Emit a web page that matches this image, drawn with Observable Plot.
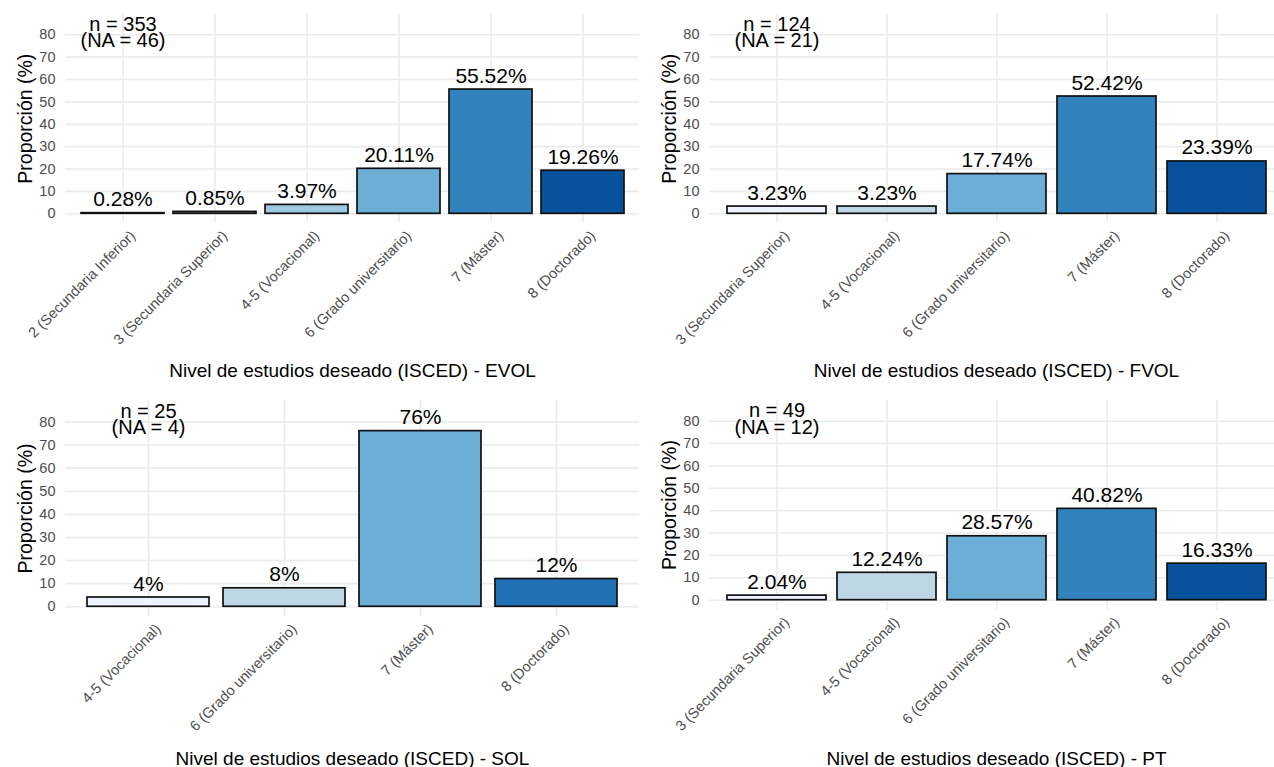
<!DOCTYPE html>
<html><head><meta charset="utf-8">
<script src="https://cdn.jsdelivr.net/npm/d3@7"></script>
<script src="https://cdn.jsdelivr.net/npm/@observablehq/plot@0.6"></script>
<style>
html,body{margin:0;padding:0;background:#fff}
body{width:1274px;height:767px;overflow:hidden;position:relative;font-family:"Liberation Sans",Arial,sans-serif}
.panel{position:absolute;width:645px}
.panel svg{overflow:visible;max-width:none !important}
</style></head><body>
<div id="p1" class="panel" style="left:0px;top:0px"></div>
<div id="p2" class="panel" style="left:643.5px;top:0px"></div>
<div id="p3" class="panel" style="left:0px;top:383px"></div>
<div id="p4" class="panel" style="left:643.5px;top:383px"></div>
<script>
// ---- data ----
const yTicks = [0, 10, 20, 30, 40, 50, 60, 70, 80];
const yTitle = "Proporción (%)";

const catsEVOL = ["2 (Secundaria Inferior)", "3 (Secundaria Superior)", "4-5 (Vocacional)", "6 (Grado universitario)", "7 (Máster)", "8 (Doctorado)"];
const valsEVOL = [0.28, 0.85, 3.97, 20.11, 55.52, 19.26];
const labsEVOL = ["0.28%", "0.85%", "3.97%", "20.11%", "55.52%", "19.26%"];
const noteEVOL = "n = 353\n(NA = 46)";
const titleEVOL = "Nivel de estudios deseado (ISCED) - EVOL";

const catsFVOL = ["3 (Secundaria Superior)", "4-5 (Vocacional)", "6 (Grado universitario)", "7 (Máster)", "8 (Doctorado)"];
const valsFVOL = [3.23, 3.23, 17.74, 52.42, 23.39];
const labsFVOL = ["3.23%", "3.23%", "17.74%", "52.42%", "23.39%"];
const noteFVOL = "n = 124\n(NA = 21)";
const titleFVOL = "Nivel de estudios deseado (ISCED) - FVOL";

const catsSOL = ["4-5 (Vocacional)", "6 (Grado universitario)", "7 (Máster)", "8 (Doctorado)"];
const valsSOL = [4, 8, 76, 12];
const labsSOL = ["4%", "8%", "76%", "12%"];
const noteSOL = "n = 25\n(NA = 4)";
const titleSOL = "Nivel de estudios deseado (ISCED) - SOL";

const catsPT = ["3 (Secundaria Superior)", "4-5 (Vocacional)", "6 (Grado universitario)", "7 (Máster)", "8 (Doctorado)"];
const valsPT = [2.04, 12.24, 28.57, 40.82, 16.33];
const labsPT = ["2.04%", "12.24%", "28.57%", "40.82%", "16.33%"];
const notePT = "n = 49\n(NA = 12)";
const titlePT = "Nivel de estudios deseado (ISCED) - PT";

// ---- drawing ----
const FONT = "'Liberation Sans', Arial, sans-serif";

function panel(cats, vals, labs, note, title, layout) {
  const data = cats.map((c, i) => ({cat: c, val: vals[i], lab: labs[i]}));
  return Plot.plot({
    width: 645,
    height: 383,
    marginLeft: 65,
    marginRight: 6,
    marginTop: layout.top,
    marginBottom: layout.bottom,
    style: {fontFamily: FONT, background: "transparent", overflow: "visible"},
    x: {domain: cats, paddingInner: 0.1, paddingOuter: 0.15, label: null, axis: null},
    y: {domain: [-4.25, 89.25], label: null, axis: null},
    color: {type: "ordinal", scheme: "blues", domain: cats},
    marks: [
      Plot.gridY(yTicks, {stroke: "#ebebeb", strokeOpacity: 1, strokeWidth: 1.6}),
      Plot.gridX(cats, {stroke: "#ebebeb", strokeOpacity: 1, strokeWidth: 1.6}),
      // y tick labels
      Plot.text(yTicks, {y: d => d, frameAnchor: "left", dx: -10, textAnchor: "end", lineAnchor: "middle", fontSize: 14.5, fill: "#4d4d4d", text: d => String(d)}),
      // x tick labels (rotated)
      Plot.text(cats, {x: d => d, frameAnchor: "bottom", dx: 6, dy: 6, rotate: -45, textAnchor: "end", lineAnchor: "top", fontSize: 14.5, fill: "#4d4d4d", text: d => d}),
      Plot.barY(data, {x: "cat", y1: 0, y2: "val", fill: "cat", stroke: "#111", strokeWidth: 1.7}),
      Plot.text(data, {x: "cat", y: "val", text: "lab", dy: -7, lineAnchor: "bottom", fontSize: 21, fill: "#000"}),
      Plot.text([note], {x: () => cats[0], y: () => 80.5, text: d => d, lineAnchor: "middle", fontSize: 20, lineHeight: 0.82, fill: "#000"}),
      Plot.text([title], {frameAnchor: "bottom", dy: layout.titleDy, lineAnchor: "bottom", textAnchor: "middle", fontSize: 19, fill: "#000", text: d => d}),
      Plot.text([yTitle], {frameAnchor: "left", dx: -40, rotate: -90, textAnchor: "middle", lineAnchor: "middle", fontSize: 19.5, fill: "#000", text: d => d})
    ]
  });
}

document.getElementById("p1").append(panel(catsEVOL, valsEVOL, labsEVOL, noteEVOL, titleEVOL, {top: 13.6, bottom: 160.2, titleDy: 154}));
document.getElementById("p2").append(panel(catsFVOL, valsFVOL, labsFVOL, noteFVOL, titleFVOL, {top: 13.6, bottom: 160.2, titleDy: 154}));
document.getElementById("p3").append(panel(catsSOL, valsSOL, labsSOL, noteSOL, titleSOL, {top: 17, bottom: 149.9, titleDy: 148}));
document.getElementById("p4").append(panel(catsPT, valsPT, labsPT, notePT, titlePT, {top: 17, bottom: 156.8, titleDy: 155}));
</script>
</body></html>
